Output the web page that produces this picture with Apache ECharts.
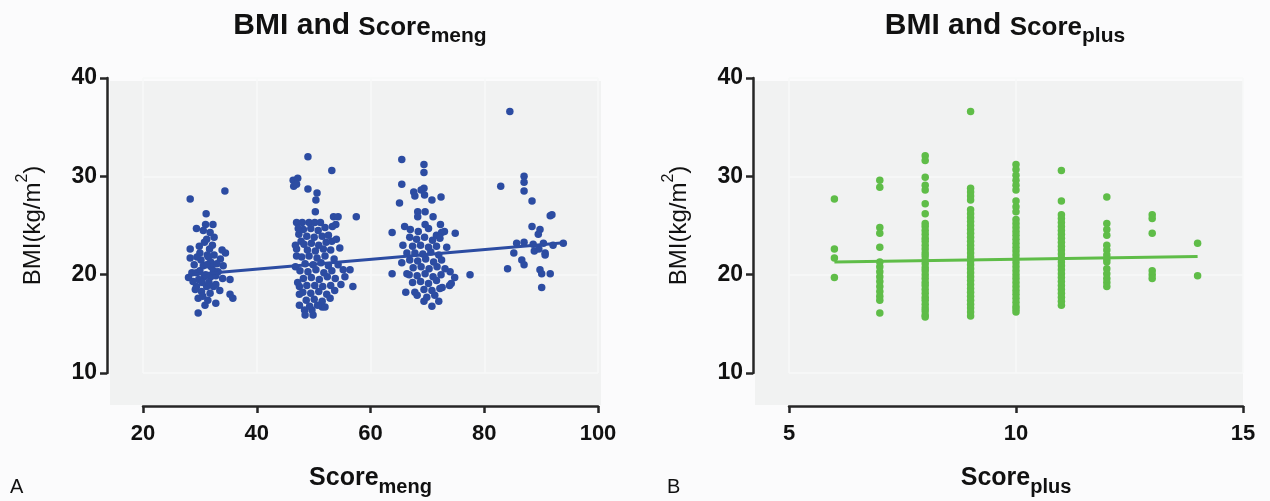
<!DOCTYPE html>
<html>
<head>
<meta charset="utf-8">
<script src="https://cdn.jsdelivr.net/npm/echarts@6/dist/echarts.min.js"></script>
<style>
html,body{margin:0;padding:0;background:#fbfbfc;}
#chart{width:1270px;height:501px;}
</style>
</head>
<body>
<div id="chart"></div>
<script>
// ---- Panel A: BMI vs Score_meng (score, BMI) ----
const meng30 = [
 [28.3,27.7],[34.4,28.5],[31.1,26.2],[29.4,24.7],[31.0,25.1],[32.3,25.1],[31.2,23.6],[32.5,23.8],
 [29.9,22.9],[28.3,22.6],[28.3,21.7],[34.5,22.2],[31.3,22.0],[32.5,22.0],[31.9,21.3],[34.1,20.9],
 [28.6,20.2],[29.4,20.2],[30.0,20.4],[28.0,19.7],[35.3,19.5],[30.8,19.8],[31.9,19.8],[32.8,19.9],
 [29.4,18.8],[31.2,18.8],[32.4,18.8],[33.5,18.4],[35.3,18.0],[35.8,17.6],[29.7,17.6],[30.9,16.9],
 [32.8,17.1],[29.7,16.1],
 [29.0,21.0],[30.2,21.5],[31.5,21.8],[32.0,20.8],[30.6,20.9],[29.8,19.5],[31.0,20.0],[31.6,19.2],
 [30.3,18.3],[31.8,18.1],[32.8,19.0],[33.2,20.3],[33.6,21.6],[30.5,17.8],[31.4,17.4],[29.2,18.5],
 [30.0,22.2],[31.7,22.6],[32.2,23.0],[30.8,23.3],[33.0,21.1],[28.8,19.3],[32.4,20.4],[31.2,21.0],
 [30.4,19.2],[34.0,19.6],[33.9,22.5],[29.5,21.8],[31.8,24.3],[30.6,24.5]
];
const meng50 = [
 [49.0,32.0],[53.2,30.6],[46.4,29.6],[47.2,29.8],[46.5,29.0],[47.0,29.2],[49.0,28.7],[50.6,28.3],
 [50.4,27.6],[50.3,26.4],[53.5,25.9],[54.3,25.9],[57.5,25.9],[53.3,24.9],[47.0,25.3],[48.0,25.3],
 [49.2,25.3],[50.2,25.3],[51.2,25.3],[47.4,24.1],[47.8,23.4],[53.2,23.4],[47.0,22.6],[47.0,21.9],
 [56.4,20.5],[55.2,20.5],[56.9,18.8],[47.5,18.8],[47.5,18.0],[47.5,16.9],[48.4,16.4],[49.7,16.4],
 [51.5,16.7],[52.0,16.7],[48.5,15.9],[49.9,15.9],
 [48.2,24.6],[49.5,24.7],[50.8,24.5],[52.0,24.8],[48.8,23.9],[50.1,23.8],[51.5,23.9],[52.6,24.0],
 [48.3,23.1],[49.6,23.2],[50.9,23.0],[52.2,23.3],[46.8,23.0],[48.9,22.5],[50.3,22.4],[51.7,22.6],
 [53.0,22.5],[47.9,21.8],[49.2,21.9],[50.6,21.7],[52.0,21.9],[53.6,21.6],[48.5,21.1],[49.9,21.0],
 [51.3,21.2],[52.6,20.9],[54.3,21.0],[47.6,20.4],[49.0,20.3],[50.4,20.5],[51.8,20.2],[53.2,20.4],
 [48.2,19.6],[49.6,19.7],[51.0,19.5],[52.4,19.8],[53.8,19.6],[47.2,19.2],[48.8,18.9],[50.2,18.9],
 [51.6,18.8],[53.0,18.9],[48.1,18.2],[49.5,18.1],[50.9,18.3],[52.3,18.0],[53.7,18.4],[48.7,17.4],
 [50.1,17.5],[51.5,17.3],[52.9,17.6],[49.3,16.8],[50.7,16.9],[54.8,19.0],[55.5,19.8],[54.6,22.7],
 [54.0,23.6],[46.8,20.8],[47.3,24.7],[53.9,25.1]
];
const meng70 = [
 [65.5,31.7],[69.4,31.2],[69.4,30.4],[65.5,29.2],[69.4,28.8],[67.6,28.4],[68.9,28.6],[69.5,28.1],
 [67.8,28.0],[70.8,27.6],[72.4,27.9],[65.1,27.3],[68.3,26.4],[69.6,26.4],[68.3,25.9],[71.0,25.9],
 [69.6,25.1],[72.3,25.1],[63.8,24.3],[74.9,24.2],[71.6,24.0],[72.5,24.3],[73.4,22.8],[66.4,22.2],
 [65.5,21.2],[63.8,20.1],[66.4,20.1],[77.5,20.0],[74.8,19.7],[74.0,20.3],[74.2,19.1],[73.9,18.9],
 [72.6,18.7],[66.2,18.2],[67.8,18.2],[69.4,17.3],[70.8,16.8],[72.0,17.3],
 [67.0,24.6],[68.4,24.4],[70.2,24.7],[66.9,23.8],[68.1,23.6],[69.5,23.8],[70.9,23.5],[72.2,23.7],
 [67.4,22.9],[68.8,23.0],[70.2,22.8],[71.6,22.9],[67.8,22.2],[69.2,22.1],[70.6,22.3],[72.0,22.0],
 [66.9,21.5],[68.3,21.4],[69.7,21.6],[71.1,21.3],[72.5,21.5],[67.5,20.7],[68.9,20.8],[70.3,20.6],
 [71.7,20.8],[73.1,20.6],[66.8,20.0],[68.2,19.9],[69.6,20.1],[71.0,19.8],[72.4,20.0],[67.4,19.2],
 [68.8,19.3],[70.2,19.1],[71.6,19.4],[69.4,18.5],[70.8,18.4],[72.2,18.6],[68.2,17.9],[69.9,17.7],
 [71.3,17.9],[66.0,24.9],[73.0,24.4],[65.7,23.0]
];
const meng90 = [
 [84.5,36.6],[87.0,30.0],[87.0,29.4],[87.0,28.5],[82.9,29.0],[88.4,27.5],[91.6,26.0],[91.9,26.1],
 [88.4,24.9],[89.8,24.6],[89.5,24.1],[85.7,23.2],[87.0,23.3],[88.6,23.1],[90.4,23.2],[92.1,23.0],
 [93.9,23.2],[85.2,22.2],[88.8,22.4],[89.6,22.6],[90.7,22.2],[90.7,22.0],[84.1,20.6],[86.6,21.5],
 [87.0,21.0],[89.8,20.5],[90.1,20.1],[91.6,20.1],[90.1,18.7]
];
const mengFit = [[28, 19.96], [94, 23.25]];

// ---- Panel B: BMI vs Score_plus ----
const plusScores = [6, 7, 8, 9, 10, 11, 12, 13, 14];
const plusBmi = [
 [27.7, 22.6, 21.7, 19.7],
 [29.6, 28.9, 24.8, 24.2, 22.8, 21.3, 20.8, 20.3, 19.8, 19.3, 18.8, 18.3, 17.8, 17.4, 16.1],
 [32.1, 31.6, 29.9, 29.1, 28.6, 27.2, 26.2, 25.2, 24.9, 24.5, 24.1, 23.7, 23.4, 23.0, 22.6, 22.2,
  21.9, 21.5, 21.1, 20.7, 20.4, 20.0, 19.6, 19.2, 18.9, 18.5, 18.1, 17.7, 17.4, 17.0, 16.6, 16.3, 15.9, 15.7],
 [36.6, 28.8, 28.4, 28.0, 27.6, 26.6, 26.2, 25.8, 25.4, 25.0, 24.6, 24.2, 23.8, 23.4, 23.0, 22.6,
  22.2, 21.8, 21.4, 21.0, 20.6, 20.2, 19.8, 19.4, 19.0, 18.6, 18.2, 17.8, 17.4, 17.0, 16.6, 16.2, 15.8],
 [31.2, 30.7, 30.1, 29.6, 29.1, 28.6, 27.5, 26.9, 26.4, 25.6, 25.2, 24.8, 24.4, 24.0, 23.6, 23.2,
  22.8, 22.4, 22.0, 21.6, 21.2, 20.8, 20.4, 20.0, 19.6, 19.2, 18.8, 18.4, 18.0, 17.6, 17.2, 16.8, 16.5, 16.2],
 [30.6, 27.5, 26.1, 25.7, 25.3, 24.9, 24.5, 24.1, 23.7, 23.3, 22.9, 22.5, 22.1, 21.7, 21.3, 20.9,
  20.5, 20.1, 19.7, 19.3, 18.9, 18.5, 18.1, 17.7, 17.3, 16.9],
 [27.9, 25.2, 24.6, 24.0, 23.0, 22.5, 22.0, 21.6, 21.3, 20.6, 20.1, 19.6, 19.2, 18.8],
 [26.1, 25.7, 24.2, 20.4, 20.0, 19.6],
 [23.2, 19.9]
];
const plusFit = [[6, 21.3], [14, 21.85]];

const xTicksA = [20, 40, 60, 80, 100];
const xTicksB = [5, 10, 15];
const yTicks = [10, 20, 30, 40];

// ---- build ----
const mengData = meng30.concat(meng50, meng70, meng90);
const plusData = [];
plusScores.forEach((s, i) => plusBmi[i].forEach(v => plusData.push([s, v])));

const FONT = '"Liberation Sans", Arial, Helvetica, sans-serif';
const BLUE = '#2c4ca2';
const GREEN = '#5fbd48';
const AXIS = '#262626';
const GRAY = '#f1f2f2';

const titleRichStyle = {
  a: { fontFamily: FONT, fontWeight: 'bold', fontSize: 30, color: '#111', verticalAlign: 'bottom', lineHeight: 30, padding: [0, 0, 6, 0] },
  c: { fontFamily: FONT, fontWeight: 'bold', fontSize: 26, color: '#111', verticalAlign: 'bottom', lineHeight: 26, padding: [0, 0, 6, 0] },
  b: { fontFamily: FONT, fontWeight: 'bold', fontSize: 21, color: '#111', verticalAlign: 'bottom', lineHeight: 21 }
};

function xAxisCfg(gi, min, max, interval, sub) {
  return {
    gridIndex: gi, type: 'value', min: min, max: max, interval: interval, offset: 33,
    axisLine: { show: true, onZero: false, lineStyle: { color: AXIS, width: 2.5 } },
    axisTick: { show: true, length: 7, lineStyle: { color: AXIS, width: 2.5 } },
    axisLabel: { margin: 17, fontFamily: FONT, fontWeight: 'bold', fontSize: 22, color: '#111' },
    splitLine: { show: true, lineStyle: { color: '#f7f8f8', width: 1.5 } },
    name: '{a|Score}{b|' + sub + '}',
    nameLocation: 'middle', nameGap: 66,
    nameTextStyle: {
      rich: {
        a: { fontFamily: FONT, fontWeight: 'bold', fontSize: 25, color: '#111', verticalAlign: 'bottom', lineHeight: 25, padding: [0, 0, 6, 0] },
        b: { fontFamily: FONT, fontWeight: 'bold', fontSize: 20, color: '#111', verticalAlign: 'bottom', lineHeight: 20 }
      }
    }
  };
}

function yAxisCfg(gi) {
  return {
    gridIndex: gi, type: 'value', min: 10, max: 40, interval: 10, offset: 36,
    axisLine: { show: true, onZero: false, lineStyle: { color: AXIS, width: 2.5 } },
    axisTick: { show: true, length: 7, lineStyle: { color: AXIS, width: 2.5 } },
    axisLabel: { margin: 10, fontFamily: FONT, fontWeight: 'bold', fontSize: 23, color: '#111' },
    splitLine: { show: true, lineStyle: { color: '#f7f8f8', width: 1.5 } },
    name: '{a|BMI(kg/m}{s|2}{a|)}',
    nameLocation: 'middle', nameRotate: 90, nameGap: 68,
    nameTextStyle: {
      rich: {
        a: { fontFamily: FONT, fontSize: 24, color: '#111', verticalAlign: 'top', lineHeight: 24, padding: [6, 0, 0, 0] },
        s: { fontFamily: FONT, fontSize: 16, color: '#111', verticalAlign: 'top', lineHeight: 16 }
      }
    }
  };
}

const chart = echarts.init(document.getElementById('chart'), null, { renderer: 'canvas' });
chart.setOption({
  backgroundColor: '#fbfbfc',
  animation: false,
  graphic: [
    { type: 'rect', z: -10, shape: { x: 110, y: 81, width: 491, height: 324 }, style: { fill: GRAY } },
    { type: 'rect', z: -10, shape: { x: 755, y: 81, width: 488, height: 324 }, style: { fill: GRAY } },
    { type: 'text', left: 10, top: 477, style: { text: 'A', fontFamily: FONT, fontSize: 20, fill: '#111' } },
    { type: 'text', left: 667, top: 477, style: { text: 'B', fontFamily: FONT, fontSize: 20, fill: '#111' } }
  ],
  title: [
    { left: 355, top: 12, textAlign: 'center', text: '{a|BMI and }{c|Score}{b|meng}', textStyle: { rich: titleRichStyle } },
    { left: 1000, top: 12, textAlign: 'center', text: '{a|BMI and }{c|Score}{b|plus}', textStyle: { rich: titleRichStyle } }
  ],
  grid: [
    { left: 143, top: 78, width: 455, height: 295, containLabel: false, outerBoundsMode: 'none' },
    { left: 789, top: 78, width: 454, height: 295, containLabel: false, outerBoundsMode: 'none' }
  ],
  xAxis: [xAxisCfg(0, 20, 100, 20, 'meng'), xAxisCfg(1, 5, 15, 5, 'plus')],
  yAxis: [yAxisCfg(0), yAxisCfg(1)],
  series: [
    { type: 'scatter', xAxisIndex: 0, yAxisIndex: 0, data: mengData, symbolSize: 7.5,
      itemStyle: { color: BLUE, opacity: 1 }, z: 3 },
    { type: 'line', xAxisIndex: 0, yAxisIndex: 0, data: mengFit, symbol: 'none',
      lineStyle: { color: BLUE, width: 3 }, z: 4 },
    { type: 'scatter', xAxisIndex: 1, yAxisIndex: 1, data: plusData, symbolSize: 7.5,
      itemStyle: { color: GREEN, opacity: 1 }, z: 3 },
    { type: 'line', xAxisIndex: 1, yAxisIndex: 1, data: plusFit, symbol: 'none',
      lineStyle: { color: GREEN, width: 3 }, z: 4 }
  ]
});
</script>
</body>
</html>
